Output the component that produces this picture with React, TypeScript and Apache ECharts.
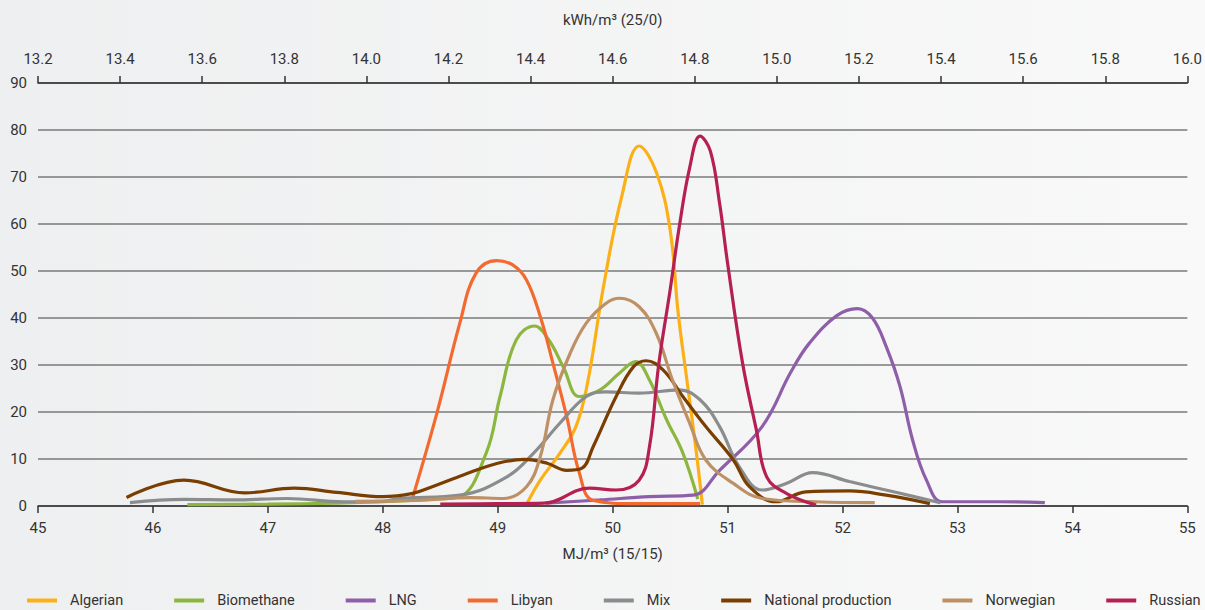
import React, { useEffect, useRef } from "react";
import * as echarts from "echarts";

const FONT = "Roboto, 'Liberation Sans', sans-serif";

const seriesNames = ["Algerian", "Biomethane", "LNG", "Libyan", "Mix", "National production", "Norwegian", "Russian"];
const seriesColors = ["#fcb017", "#8cb63e", "#8e5ea9", "#f26a30", "#8a8c8e", "#7a3e00", "#bd9066", "#b61f52"];

const bottomTicks = { min: 45, max: 55, interval: 1 };
const topTicks = { min: 13.2, max: 16.0, interval: 0.2 };
const yTicks = { min: 0, max: 90, interval: 10 };

const algerian = [
  [49.25, 0.3], [49.37, 5.5], [49.54, 11.2], [49.68, 16.9], [49.78, 26], [49.92, 46.7],
  [50.08, 66], [50.23, 76.6], [50.38, 71], [50.5, 58.7], [50.57, 41], [50.65, 26], [50.73, 11], [50.78, 0.3],
];
const biomethane = [
  [46.3, 0.3], [47.0, 0.4], [47.6, 0.6], [48.0, 0.9], [48.4, 1.4], [48.66, 1.9], [48.9, 11.3], [49.02, 23.3], [49.16, 35.3],
  [49.32, 38.3], [49.44, 35.5], [49.57, 29.6], [49.71, 23.3], [49.89, 24.7], [50.06, 28.3], [50.2, 30.7], [50.32, 26.8],
  [50.47, 18.3], [50.61, 11.3], [50.74, 1.5],
];
const lng = [
  [49.42, 0.6], [49.89, 1.3], [50.32, 2], [50.7, 2.3], [50.93, 7.6], [51.3, 16.9], [51.55, 28.5], [51.71, 34.6],
  [51.95, 40.5], [52.13, 42], [52.26, 40], [52.38, 33.9], [52.5, 25.4], [52.61, 14], [52.73, 5.5], [52.87, 0.9],
  [53.37, 0.9], [53.76, 0.7],
];
const libyan = [
  [48.26, 1.8], [48.47, 19.7], [48.67, 38.9], [48.81, 49.5], [48.99, 52.2], [49.13, 51.3], [49.25, 48.1], [49.37, 40.3],
  [49.48, 30.4], [49.6, 19], [49.71, 7], [49.83, 1.2], [50.2, 0.5], [50.76, 0.5],
];
const mix = [
  [45.8, 0.7], [46.27, 1.4], [46.7, 1.3], [47.17, 1.6], [47.66, 0.9], [48.0, 1.0], [48.15, 1.6], [48.67, 2.3], [49.08, 6.2],
  [49.31, 11.2], [49.54, 17.6], [49.77, 23.3], [49.94, 24.3], [50.23, 24], [50.58, 24.7], [50.76, 22.6], [50.93, 16.9],
  [51.1, 8.4], [51.3, 3.4], [51.51, 4.8], [51.74, 7.1], [52.06, 5.2], [52.5, 2.7], [52.85, 0.7],
];
const nationalProduction = [
  [45.77, 1.8], [46.27, 5.5], [46.8, 2.8], [47.23, 3.8], [47.6, 2.9], [48.0, 2.0], [48.26, 2.7], [48.43, 4.1], [48.7, 6.6],
  [49.0, 9.1], [49.23, 9.9], [49.43, 9.1], [49.6, 7.6], [49.73, 8], [49.83, 12.6], [50.03, 23.3], [50.18, 29.6],
  [50.29, 30.9], [50.44, 28.9], [50.61, 23.3], [50.81, 16.9], [51.05, 9.8], [51.19, 4.1], [51.42, 0.9], [51.68, 3],
  [52.06, 3.2], [52.38, 2.3], [52.76, 0.5],
];
const norwegian = [
  [47.76, 1.0], [48.3, 1.2], [48.76, 1.8], [49.05, 1.6], [49.25, 4.1], [49.37, 10.5], [49.48, 22.6], [49.63, 32.5],
  [49.77, 38.9], [49.94, 43.1], [50.06, 44.2], [50.23, 42.4], [50.38, 36.7], [50.52, 26.8], [50.67, 17.6], [50.81, 9.8],
  [51.05, 4.8], [51.3, 1.6], [51.77, 0.9], [52.28, 0.7],
];
const russian = [
  [48.5, 0.4], [49.0, 0.5], [49.4, 0.6], [49.8, 3.8], [50.03, 3.4], [50.23, 5.5], [50.32, 12.6], [50.4, 30],
  [50.5, 46], [50.58, 59.5], [50.67, 72], [50.76, 78.7], [50.85, 75.5], [50.93, 64.4], [51.0, 51.6], [51.13, 30.4],
  [51.25, 16.2], [51.34, 6.2], [51.51, 2.7], [51.77, 0.2],
];

const allData = [algerian, biomethane, lng, libyan, mix, nationalProduction, norwegian, russian];

export default function App() {
  const ref = useRef<HTMLDivElement>(null);
  useEffect(() => {
    document.body.style.margin = "0";
    if (!ref.current) return;
    const chart = echarts.init(ref.current, undefined, { renderer: "svg" });
    const textColor = "#333333";
    chart.setOption({
      animation: false,
      backgroundColor: new echarts.graphic.LinearGradient(0, 0, 1, 0, [
        { offset: 0, color: "#eeeff0" },
        { offset: 1, color: "#f9f9f9" },
      ]),
      textStyle: { fontFamily: FONT },
      grid: { left: 38, right: 17, top: 83, bottom: 104 },
      legend: {
        bottom: -3,
        left: 22,
        width: 1183,
        itemGap: 51,
        itemWidth: 30,
        itemHeight: 4,
        icon: "rect",
        textStyle: { fontFamily: FONT, fontSize: 14.5, color: textColor, padding: [0, 0, 0, 8] },
        data: seriesNames,
      },
      xAxis: [
        {
          type: "value",
          position: "bottom",
          min: bottomTicks.min,
          max: bottomTicks.max,
          interval: bottomTicks.interval,
          name: "MJ/m³ (15/15)",
          nameLocation: "middle",
          nameGap: 40,
          nameTextStyle: { fontFamily: FONT, fontSize: 15, color: textColor },
          axisLine: { show: true, lineStyle: { color: "#333", width: 1.5 } },
          axisTick: { show: true, length: 7, lineStyle: { color: "#333", width: 1.5 } },
          axisLabel: { fontFamily: FONT, fontSize: 15, color: textColor, margin: 14 },
          splitLine: { show: false },
        },
        {
          type: "value",
          position: "top",
          min: topTicks.min,
          max: topTicks.max,
          interval: topTicks.interval,
          name: "kWh/m³ (25/0)",
          nameLocation: "middle",
          nameGap: 56,
          nameTextStyle: { fontFamily: FONT, fontSize: 15, color: textColor },
          axisLine: { show: true, lineStyle: { color: "#333", width: 1.5 } },
          axisTick: { show: true, length: 7, lineStyle: { color: "#333", width: 1.5 } },
          axisLabel: {
            fontFamily: FONT,
            fontSize: 15,
            color: textColor,
            margin: 17,
            formatter: (v: number) => v.toFixed(1),
          },
          splitLine: { show: false },
        },
      ],
      yAxis: {
        type: "value",
        min: yTicks.min,
        max: yTicks.max,
        interval: yTicks.interval,
        axisLine: { show: false },
        axisTick: { show: false },
        axisLabel: { fontFamily: FONT, fontSize: 15, color: textColor, margin: 11 },
        splitLine: { show: true, lineStyle: { color: "#7a7a7a", width: 1.5 } },
      },
      series: seriesNames.map((name, i) => ({
        name,
        type: "line",
        xAxisIndex: 0,
        data: allData[i],
        smooth: 0.4,
        symbol: "none",
        color: seriesColors[i],
        lineStyle: { width: 3.2, color: seriesColors[i] },
      })),
    });
    return () => chart.dispose();
  }, []);
  return <div ref={ref} style={{ width: 1205, height: 610 }} />;
}
